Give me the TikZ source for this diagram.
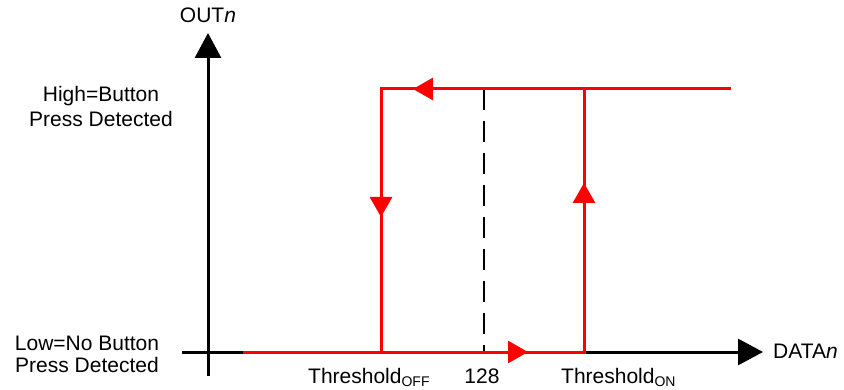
\documentclass[tikz,border=0pt]{standalone}
\usepackage{fontspec}
\setmainfont{Liberation Sans}
\usetikzlibrary{arrows.meta}
\newcommand{\subtxt}[1]{\raisebox{-3pt}{\fontsize{14}{14}\selectfont #1}}
\begin{document}
\begin{tikzpicture}[x=1pt,y=-1pt,
  axisline/.style={line width=3pt, black},
  curve/.style={line width=3pt, red, line join=miter},
  axtip/.style={-{Triangle[length=25pt,width=26pt]}},
  rtip/.style={-{Triangle[length=20pt,width=22pt]}},
  dashline/.style={line width=2.5pt, black, dash pattern=on 21pt off 11pt},
  lbl/.style={font=\fontsize{21}{25}\selectfont, inner sep=0pt, anchor=base},
]
\useasboundingbox (0,0) rectangle (844,390);
% coordinates
\coordinate (yb) at (208,376);
\coordinate (yt) at (208,33);
\coordinate (xl) at (182,352);
\coordinate (xr) at (763,352);
\coordinate (r0) at (243,352);
\coordinate (r1) at (584,352);
\coordinate (r2) at (584,89);
\coordinate (h0) at (731,89);
\coordinate (h1) at (381,89);
\coordinate (h2) at (381,352);
\coordinate (d0) at (484,89);
\coordinate (d1) at (484,352);
% axes
\draw[axisline, axtip] (yb) -- (yt);
\draw[axisline, axtip] (xl) -- (xr);
% dashed 128 line
\draw[dashline] (d0) -- (d1);
% hysteresis loop
\draw[curve] (r0) -- (r1) -- (r2);
\draw[curve] (h0) -- (h1) -- (h2);
% direction arrows
\coordinate (a1s) at (500,352); \coordinate (a1e) at (528,352);
\coordinate (a2s) at (440,89);  \coordinate (a2e) at (413,89);
\coordinate (a3s) at (381,190); \coordinate (a3e) at (381,217);
\coordinate (a4s) at (584,210); \coordinate (a4e) at (584,183);
\draw[curve, rtip] (a1s) -- (a1e);
\draw[curve, rtip] (a2s) -- (a2e);
\draw[curve, rtip] (a3s) -- (a3e);
\draw[curve, rtip] (a4s) -- (a4e);
% labels
\node[lbl] (outn) at (208,23) {OUT\textit{n}};
\node[lbl, anchor=base west] (datan) at (773,358) {DATA\textit{n}};
\node[lbl] (hi1) at (101,102) {High=Button};
\node[lbl] (hi2) at (101,127) {Press Detected};
\node[lbl] (lo1) at (87,350) {Low=No Button};
\node[lbl] (lo2) at (87,372) {Press Detected};
\node[lbl, anchor=base west] (toff) at (308,383) {Threshold\subtxt{OFF}};
\node[lbl] (n128) at (482,383) {128};
\node[lbl, anchor=base west] (ton) at (561,383) {Threshold\subtxt{ON}};
\end{tikzpicture}
\end{document}
